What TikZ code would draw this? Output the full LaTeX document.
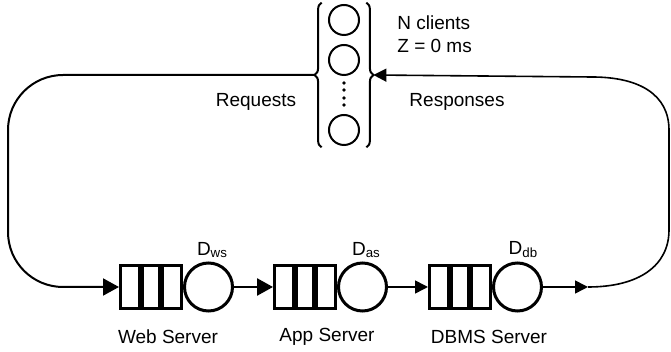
\documentclass[tikz,border=0pt]{standalone}
\usepackage{fontspec}
\setmainfont{Liberation Sans}
\usetikzlibrary{arrows.meta, positioning, fit, calc, decorations.pathreplacing}

\begin{document}
\begin{tikzpicture}[x=0.5pt, y=-0.5pt, font=\fontsize{9.5}{11.5}\selectfont]
    % Node Styles
    \tikzstyle{client} = [circle, draw, line width=1pt, minimum size=15pt, inner sep=0pt]
    \tikzstyle{buffer} = [rectangle, draw, line width=1.5pt, minimum width=30.5pt, minimum height=21.5pt, inner sep=0pt]
    \tikzstyle{server} = [circle, draw, line width=1.5pt, minimum size=24pt, inner sep=0pt]
    \tikzstyle{tag} = [inner sep=0pt]
    \tikzstyle{bracket} = [decorate, decoration={brace, amplitude=3.5pt}, line width=1pt]
    \tikzstyle{heavy} = [draw, line width=1.3pt, -{Triangle[length=8pt, width=8.5pt]}]
    \tikzstyle{light} = [draw, line width=0.8pt, -{Triangle[length=6.5pt, width=6.5pt]}]

    \useasboundingbox (0,0) rectangle (671,352);

    % Clients
    \node [client] (c1) at (344,20) {};
    \node [client] (c2) at (344,60) {};
    \node [client] (c3) at (344,130) {};
    \foreach \y in {83,90,98,105}
        \fill (344,\y) circle (0.9pt);
    \node [fit=(c1) (c3), inner xsep=3pt, inner ysep=0.5pt] (clients) {};
    \draw [bracket] (clients.south west) -- (clients.north west);
    \draw [bracket] (clients.north east) -- (clients.south east);
    \coordinate (lbr) at ([xshift=-3.5pt]clients.west);
    \coordinate (rbr) at ([xshift=3.5pt]clients.east);
    \node [tag, anchor=north west, align=left] (pop) at (397,15) {N clients\\Z = 0 ms};
    \node (req) at (256,102) {Requests};
    \node (resp) at (457,102) {Responses};

    % Stations
    \node [buffer] (ws-q) at (151,287) {};
    \node [server, right=0pt of ws-q] (ws) {};
    \node [buffer] (as-q) at (305,287) {};
    \node [server, right=0pt of as-q] (as) {};
    \node [buffer] (db-q) at (460,287) {};
    \node [server, right=0pt of db-q] (db) {};
    \foreach \s in {ws,as,db}
        \foreach \f in {0.35,0.65}
            \draw [line width=3pt] ($(\s-q.south west)!\f!(\s-q.south east)$) -- ($(\s-q.north west)!\f!(\s-q.north east)$);

    \node [tag, above=1.5pt of ws, xshift=2pt] (ws-d) {D\textsubscript{ws}};
    \node [tag, above=1.5pt of as, xshift=2pt] (as-d) {D\textsubscript{as}};
    \node [tag, above=1.5pt of db, xshift=3pt] (db-d) {D\textsubscript{db}};
    \node (ws-name) at (168,337) {Web Server};
    \node (as-name) at (327,337) {App Server};
    \node (db-name) at (489,337) {DBMS Server};

    % Paths
    \coordinate (lcorner) at (8,287);
    \coordinate (ret) at (588,287);
    \coordinate (rtop) at (592,77);
    \draw [heavy, line width=1pt, rounded corners=27.5pt] (lbr) -| (lcorner) -- (ws-q.west);
    \draw [heavy] (ws) -- (as-q);
    \draw [light] (as) -- (db-q);
    \draw [light] (db) -- (ret);
    \draw [light] (ret) .. controls (640,287) and (669,265) .. (669,230) -- (669,130) .. controls (669,95) and (640,77) .. (rtop) -- (rbr);
\end{tikzpicture}
\end{document}
